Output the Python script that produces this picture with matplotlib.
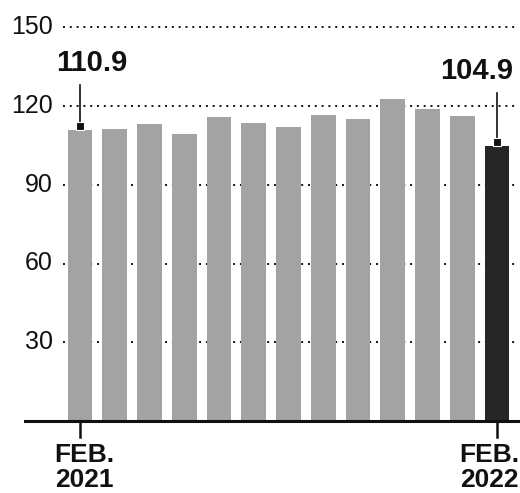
import matplotlib
matplotlib.use("Agg")
import matplotlib.pyplot as plt
import numpy as np

# Monthly index, Feb 2021 through Feb 2022
months = ["FEB.\n2021", "MAR.", "APR.", "MAY", "JUN.", "JUL.", "AUG.",
          "SEP.", "OCT.", "NOV.", "DEC.", "JAN.", "FEB.\n2022"]
values = [110.9, 111.3, 113.2, 109.4, 115.9, 113.6, 112.1,
          116.6, 115.1, 122.7, 118.9, 116.3, 104.9]
y_ticks = [30, 60, 90, 120, 150]
tick_label_idx = [0, 12]
callout_idx = [0, 12]

GRAY = "#a3a3a3"
DARK = "#262626"
SANS = ["Liberation Sans", "DejaVu Sans"]

fig = plt.figure(figsize=(5.2, 4.93), dpi=100)
W, H = 520, 493
left_px, right_px, top_px, base_px = 25, 518, 1, 421
ax = fig.add_axes([left_px / W, (H - base_px) / H,
                   (right_px - left_px) / W, (base_px - top_px) / H])

x = np.arange(len(values))
ax.set_xlim(-1.58, 12.6)
ax.set_ylim(0, 160)

# dotted reference lines behind the bars
for t in y_ticks:
    ax.hlines(t, -0.5, 12.6, colors="#111111", linestyles=(0, (1, 2.5)),
              linewidth=1.4, zorder=1)
    ax.text(-0.78, t, str(t), ha="right", va="center", fontsize=18,
            family=SANS, color="#111111")

colors = [GRAY] * (len(values) - 1) + [DARK]
ax.bar(x, values, width=0.71, color=colors, zorder=2)

# baseline
ax.axhline(0, color="#111111", linewidth=2.2, zorder=3, clip_on=False)

for sp in ax.spines.values():
    sp.set_visible(False)
ax.set_xticks([])
ax.set_yticks([])

# x labels with short ticks below the baseline
label_shift = {0: 0.14, 12: -0.23}
for i in tick_label_idx:
    ax.plot([x[i], x[i]], [0, -6], color="#111111", linewidth=1.8,
            clip_on=False, zorder=3)
    ax.text(x[i] + label_shift[i], -8.3, months[i], ha="center", va="top",
            fontsize=19, fontweight="bold", family=SANS, color="#111111",
            linespacing=1.08)

# value callouts with leader lines and square markers
label_pos = {0: (0.33, 131.0), 12: (11.42, 128.0)}
for i in callout_idx:
    lx, ly = label_pos[i]
    ax.text(lx, ly, f"{values[i]:.1f}", ha="center", va="bottom", fontsize=21,
            fontweight="bold", family=SANS, color="#111111", zorder=5)
    ax.plot([x[i], x[i]], [ly - 3, values[i] + 1.5], color="#111111",
            linewidth=1.2, zorder=5, clip_on=False)
    ax.plot(x[i], values[i] + 1.5, marker="s", markersize=5.5,
            color="#111111", markeredgecolor="white", markeredgewidth=0.8,
            zorder=6)

fig.savefig("out.png", dpi=100, facecolor="white")
